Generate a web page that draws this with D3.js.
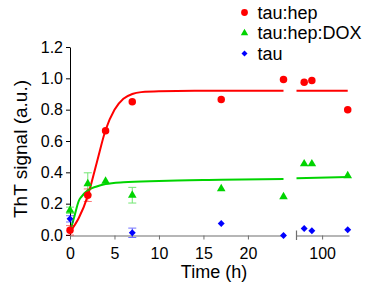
<!DOCTYPE html>
<html>
<head>
<meta charset="utf-8">
<script src="https://cdn.jsdelivr.net/npm/d3@7"></script>
<style>
  body { margin: 0; background: #fff; }
  svg text { font-family: Arial, "Liberation Sans", sans-serif; }
</style>
</head>
<body>
<div id="chart"></div>
<script>
(function () {
  // early time points (h), segment 1
  var earlyT = [0, 2, 4, 7, 17, 24];
  // late time points (h), segment 2
  var lateT = [86, 92, 120];

  var hepEarly = [0.03, 0.254, 0.665, 0.85, 0.865, 0.992];
  var hepErr = [0.03, 0.04, 0, 0, 0, 0];
  var hepLate = [0.975, 0.986, 0.80];

  var doxEarly = [0.158, 0.327, 0.343, 0.254, 0.295, 0.244];
  var doxErr = [0.02, 0.07, 0, 0.05, 0, 0];
  var doxLate = [0.454, 0.454, 0.378];

  var tauT = [0, 7, 17, 24];
  var tauEarly = [0.103, 0.014, 0.073, -0.003];
  var tauErr = [0.02, 0.03, 0, 0];
  var tauLate = [0.041, 0.027, 0.033];

  // fitted curves
  var hepFitT = [0, 1, 2, 3, 4, 5, 6, 7, 8, 10, 14, 24];
  var hepFitV = [0.02, 0.11, 0.25, 0.46, 0.67, 0.80, 0.87, 0.90, 0.912, 0.918, 0.92, 0.92];
  var hepFitLateT = [80, 120];
  var hepFitLateV = [0.92, 0.92];

  var doxFitT = [0, 0.5, 1, 1.3, 2, 3, 4, 6, 10, 17, 24];
  var doxFitV = [0.02, 0.12, 0.22, 0.245, 0.285, 0.31, 0.325, 0.337, 0.345, 0.352, 0.358];
  var doxFitLateT = [80, 120];
  var doxFitLateV = [0.362, 0.371];

  var yTicks = [0, 0.2, 0.4, 0.6, 0.8, 1.0, 1.2];
  var xTicks1 = [0, 5, 10, 15, 20];
  var xTicks2 = [100];

  var legendNames = ['tau:hep', 'tau:hep:DOX', 'tau'];

  var width = 367, height = 288;
  var red = '#ff0000', green = '#00d400', blue = '#0000ff';

  var svg = d3.select('#chart').append('svg')
    .attr('width', width)
    .attr('height', height);

  var y = d3.scaleLinear().domain([0, 1.2]).range([235, 47]);
  var x1 = d3.scaleLinear().domain([0, 24]).range([70, 283.5]);
  var x2 = d3.scaleLinear().domain([80, 121]).range([296.5, 349]);

  function xPos(t) { return t > 50 ? x2(t) : x1(t); }

  // axes
  var yAxis = svg.append('g')
    .attr('transform', 'translate(70,0)')
    .call(d3.axisLeft(y).tickValues(yTicks).tickFormat(d3.format('.1f'))
      .tickSize(4).tickSizeOuter(0).tickPadding(3));
  yAxis.select('.domain').attr('stroke', '#000');
  yAxis.selectAll('.tick line').attr('stroke', '#000');

  function styleX(g) {
    g.select('.domain').attr('stroke', '#6e6e6e').attr('stroke-width', 1.2);
    g.selectAll('.tick line').attr('stroke', '#6e6e6e');
  }
  var xAxis1 = svg.append('g')
    .attr('transform', 'translate(0,235.5)')
    .call(d3.axisBottom(x1).tickValues(xTicks1).tickFormat(d3.format('d'))
      .tickSize(4).tickSizeOuter(0).tickPadding(8));
  styleX(xAxis1);
  var xAxis2 = svg.append('g')
    .attr('transform', 'translate(0,235.5)')
    .call(d3.axisBottom(x2).tickValues(xTicks2).tickFormat(d3.format('d'))
      .tickSize(4).tickSizeOuter(0).tickPadding(8));
  styleX(xAxis2);
  // break mark at start of second segment
  svg.append('line')
    .attr('x1', x2(80)).attr('x2', x2(80))
    .attr('y1', 230.5).attr('y2', 240)
    .attr('stroke', '#6e6e6e').attr('stroke-width', 1.2);

  svg.selectAll('.tick text')
    .attr('font-size', '16px')
    .attr('fill', '#000')
    .attr('font-family', 'Arial, "Liberation Sans", sans-serif');

  // axis titles
  svg.append('text')
    .attr('transform', 'translate(27,149) rotate(-90)')
    .attr('text-anchor', 'middle')
    .attr('font-size', '19px')
    .text('ThT signal (a.u.)');
  svg.append('text')
    .attr('x', 214).attr('y', 278)
    .attr('text-anchor', 'middle')
    .attr('font-size', '18px')
    .text('Time (h)');

  // fit lines
  var line = d3.line()
    .x(function (d) { return xPos(d[0]); })
    .y(function (d) { return y(d[1]); })
    .curve(d3.curveMonotoneX);

  function drawFit(ts, vs, color) {
    svg.append('path')
      .datum(d3.zip(ts, vs))
      .attr('d', line)
      .attr('fill', 'none')
      .attr('stroke', color)
      .attr('stroke-width', 2);
  }
  drawFit(hepFitT, hepFitV, red);
  drawFit(hepFitLateT, hepFitLateV, red);
  drawFit(doxFitT, doxFitV, green);
  drawFit(doxFitLateT, doxFitLateV, green);

  // error bars
  function drawErr(ts, vs, es, color) {
    var data = d3.zip(ts, vs, es).filter(function (d) { return d[2] > 0; });
    var g = svg.append('g').attr('stroke', color).attr('stroke-width', 1).attr('opacity', 0.55);
    data.forEach(function (d) {
      var cx = xPos(d[0]);
      g.append('line').attr('x1', cx).attr('x2', cx)
        .attr('y1', y(d[1] - d[2])).attr('y2', y(d[1] + d[2]));
      [d[1] - d[2], d[1] + d[2]].forEach(function (v) {
        g.append('line').attr('x1', cx - 4).attr('x2', cx + 4)
          .attr('y1', y(v)).attr('y2', y(v));
      });
    });
  }
  drawErr(earlyT, hepEarly, hepErr, red);
  drawErr(earlyT, doxEarly, doxErr, green);
  drawErr(tauT, tauEarly, tauErr, blue);

  // markers
  var circle = d3.symbol().type(d3.symbolCircle).size(44);
  var tri = d3.symbol().type(d3.symbolTriangle).size(32);
  var dia = d3.symbol().type(d3.symbolSquare).size(24);

  function drawPts(ts, vs, sym, color, rot) {
    svg.append('g').selectAll('path')
      .data(d3.zip(ts, vs))
      .enter().append('path')
      .attr('d', sym)
      .attr('fill', color)
      .attr('transform', function (d) {
        return 'translate(' + xPos(d[0]) + ',' + y(d[1]) + ')' + (rot ? ' rotate(45)' : '');
      });
  }
  drawPts(tauT, tauEarly, dia, blue, true);
  drawPts(lateT, tauLate, dia, blue, true);
  drawPts(earlyT, doxEarly, tri, green, false);
  drawPts(lateT, doxLate, tri, green, false);
  drawPts(earlyT, hepEarly, circle, red, false);
  drawPts(lateT, hepLate, circle, red, false);

  // legend
  var legendSyms = [
    d3.symbol().type(d3.symbolCircle).size(36),
    d3.symbol().type(d3.symbolTriangle).size(24),
    d3.symbol().type(d3.symbolSquare).size(18)
  ];
  var legendColors = [red, green, blue];
  var leg = svg.append('g').selectAll('g')
    .data(legendNames)
    .enter().append('g')
    .attr('transform', function (d, i) { return 'translate(244.5,' + (12.5 + i * 20.5) + ')'; });
  leg.append('path')
    .attr('d', function (d, i) { return legendSyms[i](); })
    .attr('fill', function (d, i) { return legendColors[i]; })
    .attr('transform', function (d, i) { return i === 2 ? 'rotate(45)' : null; });
  leg.append('text')
    .attr('x', 13).attr('y', 6)
    .attr('font-size', '18px')
    .text(function (d) { return d; });
})();
</script>
</body>
</html>
